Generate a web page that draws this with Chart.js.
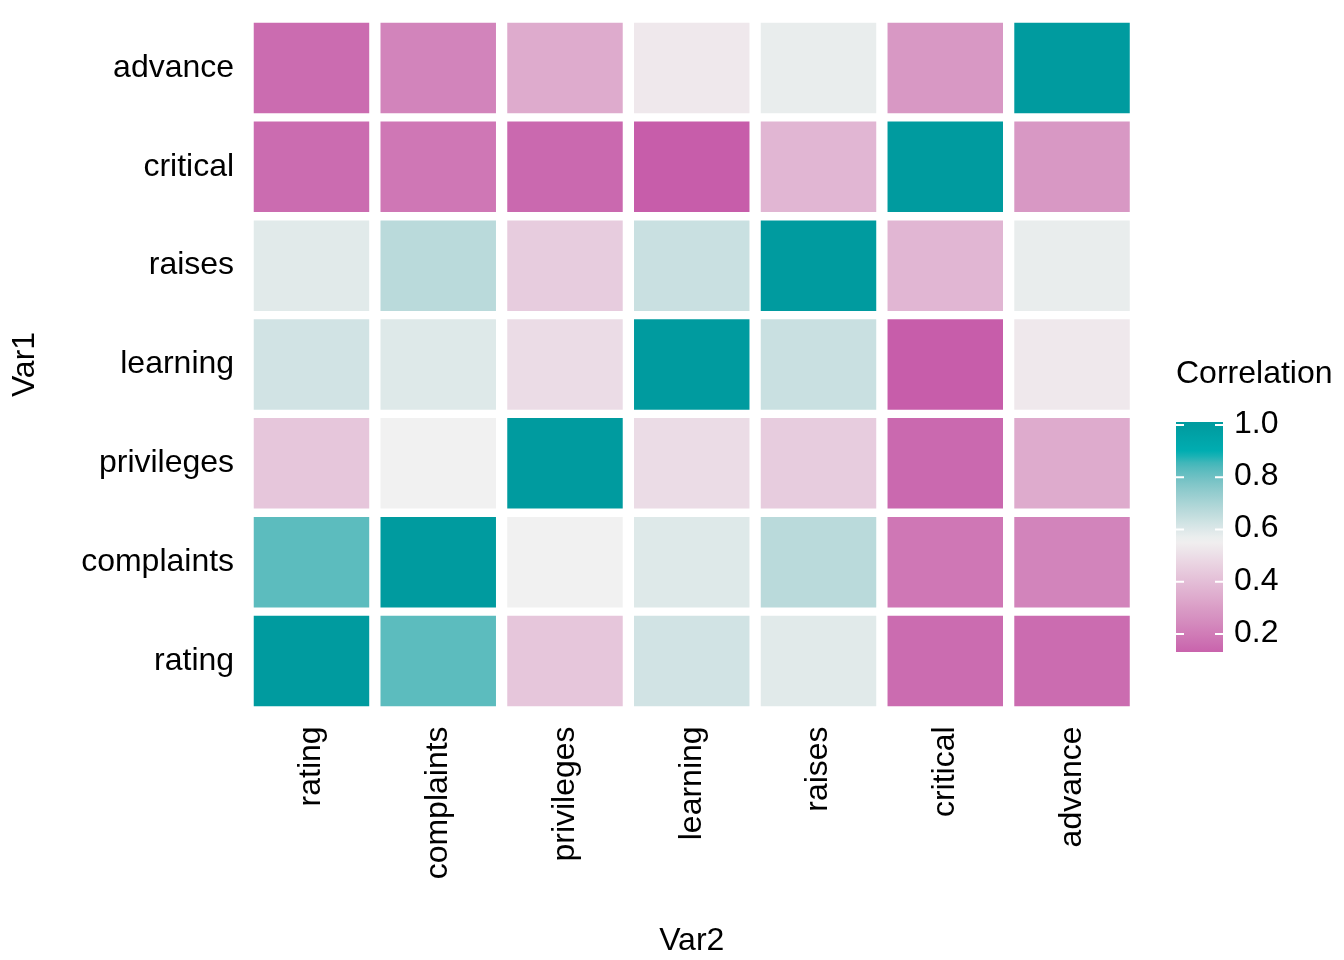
<!DOCTYPE html>
<html lang="en">
<head>
  <meta charset="UTF-8">
  <title>Correlation heatmap</title>
  <script src="https://cdn.jsdelivr.net/npm/chart.js"></script>
  <style>
    body { margin: 0; background: #fff; }
  </style>
</head>
<body>
  <canvas id="heat" width="1344" height="960"></canvas>

  <script>
    // variable names (Var1 rows bottom -> top, Var2 columns left -> right)
    const vars = ['rating', 'complaints', 'privileges', 'learning', 'raises', 'critical', 'advance'];

    // correlations, one array per Var1 row, in the order of vars
    const rating     = [1.000, 0.825, 0.426, 0.624, 0.590, 0.156, 0.155];
    const complaints = [0.825, 1.000, 0.558, 0.597, 0.669, 0.188, 0.225];
    const privileges = [0.426, 0.558, 1.000, 0.493, 0.445, 0.147, 0.343];
    const learning   = [0.624, 0.597, 0.493, 1.000, 0.640, 0.116, 0.532];
    const raises     = [0.590, 0.669, 0.445, 0.640, 1.000, 0.377, 0.574];
    const critical   = [0.156, 0.188, 0.147, 0.116, 0.377, 1.000, 0.283];
    const advance    = [0.155, 0.225, 0.343, 0.532, 0.574, 0.283, 1.000];

    const legendTicks = [0.2, 0.4, 0.6, 0.8, 1.0];

    const rows = [rating, complaints, privileges, learning, raises, critical, advance];
    const FONT = '"Liberation Sans", Arial, sans-serif';

    // diverging HCL scale (teal for high values, magenta for low), grey in the middle
    const allVals = rows.flat();
    const vMin = Math.min(...allVals), vMax = Math.max(...allVals);
    const mid = (vMin + vMax) / 2;
    const half = Math.max(vMax - mid, mid - vMin);

    function hcl2rgb(h, c, l) {
      if (l <= 0) return [0, 0, 0];
      const hr = h * Math.PI / 180;
      const u = c * Math.cos(hr), v = c * Math.sin(hr);
      const Y = l > 8 ? Math.pow((l + 16) / 116, 3) : l / 903.3;
      const un = 0.19784, vn = 0.46834;
      const up = u / (13 * l) + un, vp = v / (13 * l) + vn;
      const X = 9 * Y * up / (4 * vp);
      const Z = -X / 3 - 5 * Y + 3 * Y / vp;
      const lin = [
        3.2406 * X - 1.5372 * Y - 0.4986 * Z,
        -0.9689 * X + 1.8758 * Y + 0.0415 * Z,
        0.0557 * X - 0.2040 * Y + 1.0570 * Z
      ];
      return lin.map(x => {
        x = Math.max(0, Math.min(1, x));
        const g = x <= 0.0031308 ? 12.92 * x : 1.055 * Math.pow(x, 1 / 2.4) - 0.055;
        return Math.round(g * 255);
      });
    }

    function fillColor(val) {
      let t = (val - mid) / half;
      t = Math.max(-1, Math.min(1, t));
      const a = Math.abs(t);
      const rgb = hcl2rgb(t > 0 ? 195 : 325, 70 * a, 95 - 40 * a);
      return 'rgb(' + rgb.join(',') + ')';
    }

    // one dataset per Var1 row, each cell a floating bar one row high
    const datasets = vars.map((name, i) => ({
      label: name,
      data: rows[i].map(() => [i - 0.458, i + 0.458]),
      backgroundColor: rows[i].map(fillColor),
      borderWidth: 0,
      grouped: false,
      categoryPercentage: 1,
      barPercentage: 0.911
    }));

    // colour bar legend drawn next to the plot
    const colorbarPlugin = {
      id: 'colorbar',
      afterDraw(chart) {
        const ctx = chart.ctx;
        const x0 = 1176, w = 47, top = 422, bottom = 652;
        const yOf = v => 425 + (1 - v) * 261.25;
        const vOf = y => 1 - (y - 425) / 261.25;

        const grad = ctx.createLinearGradient(0, bottom, 0, top);
        for (let k = 0; k <= 40; k++) {
          const y = bottom - (bottom - top) * k / 40;
          grad.addColorStop(k / 40, fillColor(Math.max(vMin, Math.min(vMax, vOf(y)))));
        }
        ctx.save();
        ctx.fillStyle = grad;
        ctx.fillRect(x0, top, w, bottom - top);

        ctx.strokeStyle = '#ffffff';
        ctx.lineWidth = 2;
        ctx.font = '32px ' + FONT;
        ctx.fillStyle = '#000';
        ctx.textAlign = 'left';
        ctx.textBaseline = 'middle';
        legendTicks.forEach(v => {
          const y = yOf(v);
          ctx.beginPath();
          ctx.moveTo(x0, y); ctx.lineTo(x0 + 8, y);
          ctx.moveTo(x0 + w - 8, y); ctx.lineTo(x0 + w, y);
          ctx.stroke();
          ctx.fillText(v.toFixed(1), 1234, y - 1);
        });
        ctx.fillText('Correlation', 1176, 374);
        ctx.restore();
      }
    };

    new Chart(document.getElementById('heat'), {
      type: 'bar',
      data: { labels: vars, datasets: datasets },
      options: {
        responsive: false,
        animation: false,
        layout: { padding: { top: 18.6, right: 208.6, left: 0, bottom: 0 } },
        plugins: {
          legend: { display: false },
          tooltip: { enabled: false }
        },
        scales: {
          x: {
            type: 'category',
            grid: { display: false, drawTicks: false },
            border: { display: false },
            ticks: {
              color: '#000',
              font: { family: FONT, size: 32 },
              minRotation: 90,
              maxRotation: 90,
              padding: 16
            },
            title: {
              display: true,
              text: 'Var2',
              color: '#000',
              font: { family: FONT, size: 32 },
              padding: { top: 3, bottom: 0 }
            },
            afterFit(scale) {
              scale.height = 249.6;
              scale.paddingLeft = 0;
              scale.paddingRight = 0;
            }
          },
          y: {
            type: 'linear',
            min: -0.5,
            max: vars.length - 0.5,
            grid: { display: false, drawTicks: false },
            border: { display: false },
            afterBuildTicks(scale) {
              scale.ticks = vars.map((_, i) => ({ value: i }));
            },
            ticks: {
              color: '#000',
              font: { family: FONT, size: 32 },
              padding: 14,
              autoSkip: false,
              callback: value => vars[value]
            },
            title: {
              display: true,
              text: 'Var1',
              color: '#000',
              font: { family: FONT, size: 32 },
              padding: { top: 6, bottom: 0 }
            },
            afterFit(scale) {
              scale.width = 248.1;
              scale.paddingTop = 0;
              scale.paddingBottom = 0;
            }
          }
        }
      },
      plugins: [colorbarPlugin]
    });
  </script>
</body>
</html>
